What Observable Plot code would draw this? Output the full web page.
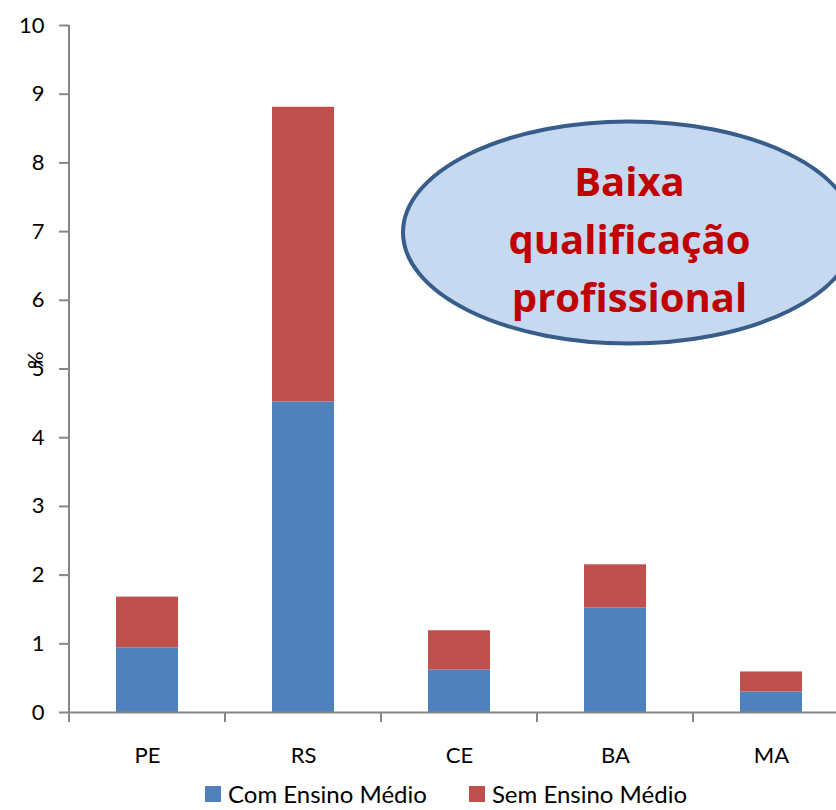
<!DOCTYPE html>
<html>
<head>
<meta charset="utf-8">
<script src="https://cdn.jsdelivr.net/npm/d3@7"></script>
<script src="https://cdn.jsdelivr.net/npm/@observablehq/plot@0.6"></script>
<style>
  html, body { margin: 0; padding: 0; background: #fff; overflow: hidden; }
  #chart { width: 836px; }
  #chart svg { overflow: hidden; }
  #chart [aria-label*="axis"] path, #chart [aria-label*="axis"] line { stroke: #868686; stroke-width: 2px; }
  .legend { display: flex; align-items: center; height: 28px; line-height: 28px; padding-left: 205px; font-family: Lato, "Open Sans", sans-serif; font-size: 24px; color: #000; white-space: nowrap; }
  .legend .sw { width: 16px; height: 16px; margin-right: 7px; }
  .legend .item { display: flex; align-items: center; }
  .legend .item + .item { margin-left: 42px; }
</style>
</head>
<body>
<div id="chart"></div>
<script>
// Data
const categories = ["PE", "RS", "CE", "BA", "MA"];
const comEnsinoMedio = [0.94, 4.52, 0.62, 1.52, 0.30];
const semEnsinoMedio = [0.74, 4.29, 0.57, 0.63, 0.29];
const seriesNames = ["Com Ensino Médio", "Sem Ensino Médio"];
const seriesColors = ["#4f81bd", "#c0504d"];
const yTicks = [0, 1, 2, 3, 4, 5, 6, 7, 8, 9, 10];
const yLabel = "%";
const noteLines = ["Baixa", "qualificação", "profissional"];

const rows = [];
categories.forEach((c, i) => {
  rows.push({cat: c, serie: seriesNames[0], value: comEnsinoMedio[i]});
  rows.push({cat: c, serie: seriesNames[1], value: semEnsinoMedio[i]});
});

const note = {x: "BA", dx: 14, y: 6.98, rx: 226, ry: 111, textY: 6.95};

function bandwidthOf(s) {
  return typeof s.bandwidth === "function" ? s.bandwidth() : s.bandwidth;
}

const ellipseMark = (index, scales, values, dimensions) => {
  const x = scales.x, y = scales.y;
  const cx = x(note.x) + bandwidthOf(x) / 2 + note.dx;
  const cy = y(note.y);
  return d3.create("svg:ellipse")
    .attr("cx", cx).attr("cy", cy).attr("rx", note.rx).attr("ry", note.ry)
    .attr("fill", "#c6d9f1").attr("stroke", "#385d8a").attr("stroke-width", 4)
    .node();
};

const axisLines = (index, scales, values, dimensions) => {
  const x = scales.x, y = scales.y;
  const g = d3.create("svg:g").attr("stroke", "#868686").attr("stroke-width", 2).attr("fill", "none");
  const x0 = dimensions.marginLeft;
  // vertical axis line
  g.append("line").attr("x1", x0).attr("x2", x0).attr("y1", y(10)).attr("y2", y(0) + 10);
  // category boundary ticks
  const step = x(categories[1]) - x(categories[0]);
  const pad = (step - bandwidthOf(x)) / 2;
  for (let i = 1; i <= categories.length; i++) {
    const bx = x(categories[i - 1]) - pad + step;
    g.append("line").attr("x1", bx).attr("x2", bx).attr("y1", y(0)).attr("y2", y(0) + 10);
  }
  return g.node();
};

const chart = Plot.plot({
  width: 836,
  height: 780,
  marginLeft: 69,
  marginRight: 0,
  marginTop: 25,
  marginBottom: 68,
  style: {fontFamily: "Lato, 'Open Sans', sans-serif", fontSize: "22px", color: "#000", background: "#fff"},
  x: {domain: categories, range: [69, 849], paddingInner: 0.6, paddingOuter: 0.3, label: null, tickSize: 0, tickPadding: 35},
  y: {domain: [0, 10], ticks: yTicks, tickSize: 10, tickPadding: 15, label: null, grid: false},
  color: {domain: seriesNames, range: seriesColors},
  marks: [
    Plot.barY(rows, {x: "cat", y: "value", fill: "serie", order: seriesNames}),
    Plot.ruleY([0], {stroke: "#868686", strokeWidth: 2}),
    axisLines,
    Plot.text([yLabel], {frameAnchor: "left", dx: -34, rotate: -90, text: d => d, fontSize: 22, fill: "#000"}),
    ellipseMark,
    Plot.text([noteLines.join("\n")], {x: () => note.x, y: () => note.textY, text: d => d, dx: note.dx,
      fontFamily: "'Open Sans', sans-serif", fontWeight: "bold", fontSize: 40, fill: "#c00000", lineHeight: 1.45, textAnchor: "middle"})
  ]
});
document.getElementById("chart").appendChild(chart);

// Legend
const legend = d3.select("body").append("div").attr("class", "legend");
seriesNames.forEach((n, i) => {
  const it = legend.append("div").attr("class", "item");
  it.append("div").attr("class", "sw").style("background", seriesColors[i]);
  it.append("span").text(n);
});
</script>
</body>
</html>
